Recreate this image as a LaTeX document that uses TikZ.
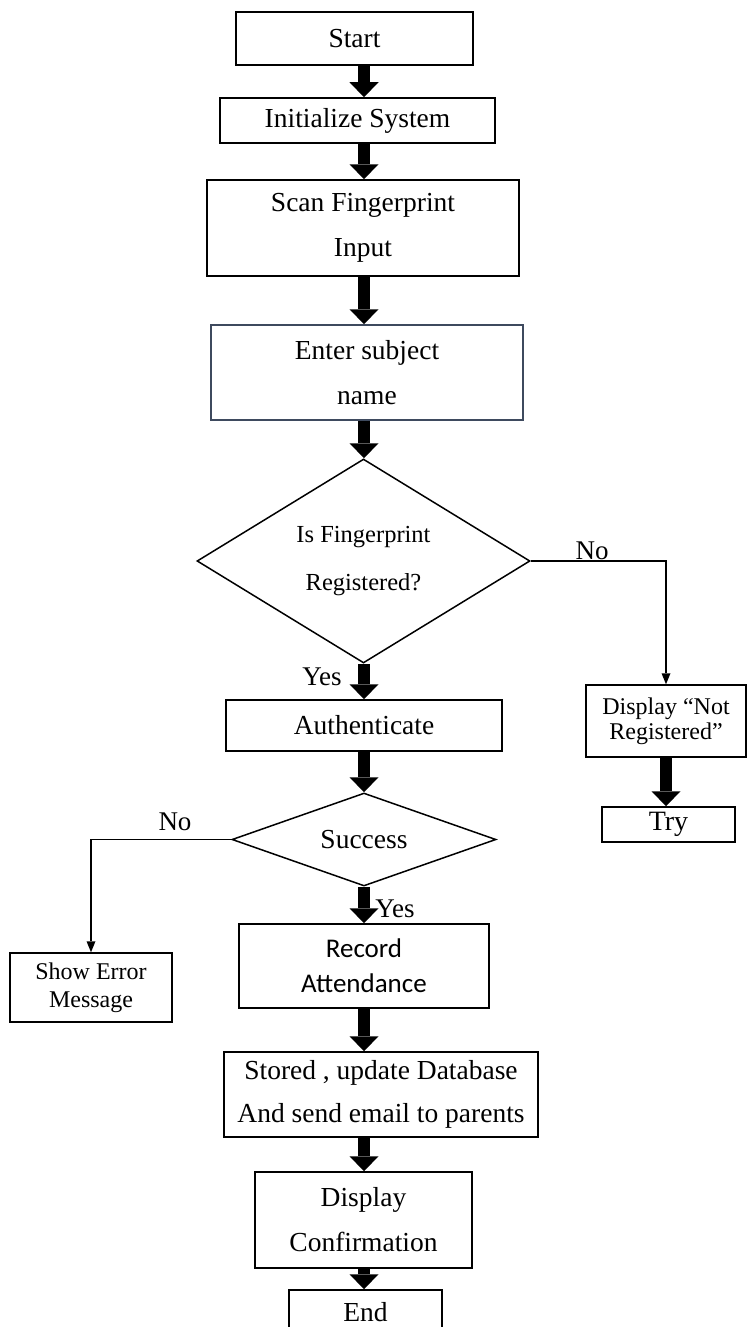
\documentclass[tikz,border=0pt]{standalone}
\usepackage{fontspec}
\setmainfont{Liberation Serif}
\newfontfamily\calibrifont{Carlito}
\usetikzlibrary{arrows.meta,shapes.geometric}
\definecolor{enterblue}{HTML}{3E4A5E}

\begin{document}
\begin{tikzpicture}
[
x=1pt, y=-1pt,
process/.style={
% The shape:
rectangle,
% The border:
draw=black,
line width=1.5pt,
% The text:
align=center,
inner sep=2pt,
font=\fontsize{27.5}{45}\selectfont,
},
decision/.style={
% The shape:
diamond,
% The border:
draw=black,
line width=1.5pt,
% The text:
align=center,
inner sep=0pt,
},
side/.style={
process,
font=\fontsize{24}{27}\selectfont,
},
flowarrow/.style={-{Triangle[width=29pt,length=15pt,line width=0pt]}, line width=12pt},
brancharrow/.style={-{Triangle[width=9pt,length=11pt,line width=0pt]}, line width=1.3pt},
tagtext/.style={inner sep=0pt, font=\fontsize{27}{30}\selectfont}
]
    \useasboundingbox (0,0) rectangle (747,1327);
    \coordinate (col) at (364,0);
    % main column
    \node[process, minimum width=237pt, minimum height=53pt] (start) at (354.5,38.5) {Start};
    \node[process, minimum width=275pt, minimum height=45pt] (init) at (357.5,120.5) {Initialize System};
    \node[process, minimum width=312pt, minimum height=96pt] (scan) at (363,228) {Scan Fingerprint\\Input};
    \node[process, draw=enterblue, minimum width=312pt, minimum height=95pt] (subject) at (367,372.5) {Enter subject\\name};
    \node[decision, aspect=1.63, minimum width=333pt, minimum height=204pt, font=\fontsize{24.5}{48}\selectfont] (registered) at (363.5,561) {Is Fingerprint\\Registered?};
    \node[process, minimum width=276pt, minimum height=51pt] (auth) at (364,725.5) {Authenticate};
    \node[decision, aspect=2.84, minimum width=264pt, minimum height=93pt, font=\fontsize{27.5}{30}\selectfont] (success) at (364,839.5) {Success};
    \node[process, minimum width=250pt, minimum height=84pt, font=\calibrifont\fontsize{27}{35}\selectfont] (record) at (364,966) {Record\\Attendance};
    \node[process, minimum width=314pt, minimum height=85pt, font=\fontsize{27.5}{43}\selectfont] (store) at (381,1094.5) {Stored , update Database\\And send email to parents};
    \node[process, minimum width=217pt, minimum height=96pt] (confirm) at (363.5,1220) {Display\\Confirmation};
    \node[process, minimum width=153pt, minimum height=44pt] (finish) at (365.5,1312) {End};
    % side boxes
    \node[side, minimum width=160pt, minimum height=72pt, font=\fontsize{24}{25}\selectfont] (notreg) at (666,721) {Display “Not\\Registered”};
    \node[side, minimum width=133pt, minimum height=35pt, font=\fontsize{28}{30}\selectfont] (retry) at (668.5,824.5) {Try};
    \node[side, minimum width=162pt, minimum height=69pt, font=\fontsize{24}{28}\selectfont] (error) at (91,987.5) {Show Error\\Message};
    % labels
    \node[tagtext] (noreg) at (592,551) {No};
    \node[tagtext] (yesreg) at (322,677) {Yes};
    \node[tagtext] (nosucc) at (175,822) {No};
    \node[tagtext] (yessucc) at (395,909) {Yes};
    % arrows
    \draw[flowarrow] (start.south -| col) -- (init.north -| col);
    \draw[flowarrow] (init.south -| col) -- (scan.north -| col);
    \draw[flowarrow] (scan.south -| col) -- (subject.north -| col);
    \draw[flowarrow] (subject.south -| col) -- (registered.north -| col);
    \draw[flowarrow] (registered.south -| col) -- (auth.north -| col);
    \draw[flowarrow] (auth.south -| col) -- (success.north -| col);
    \draw[flowarrow] (success.south -| col) -- (record.north -| col);
    \draw[flowarrow] (record.south -| col) -- (store.north -| col);
    \draw[flowarrow] (store.south -| col) -- (confirm.north -| col);
    \draw[flowarrow] (confirm.south -| col) -- (finish.north -| col);
    \draw[flowarrow] (notreg.south) -- (notreg.south |- retry.north);
    \draw[brancharrow] (registered.east) -| (notreg.north);
    \draw[brancharrow] (success.west) -| (error.north);
\end{tikzpicture}
\end{document}
